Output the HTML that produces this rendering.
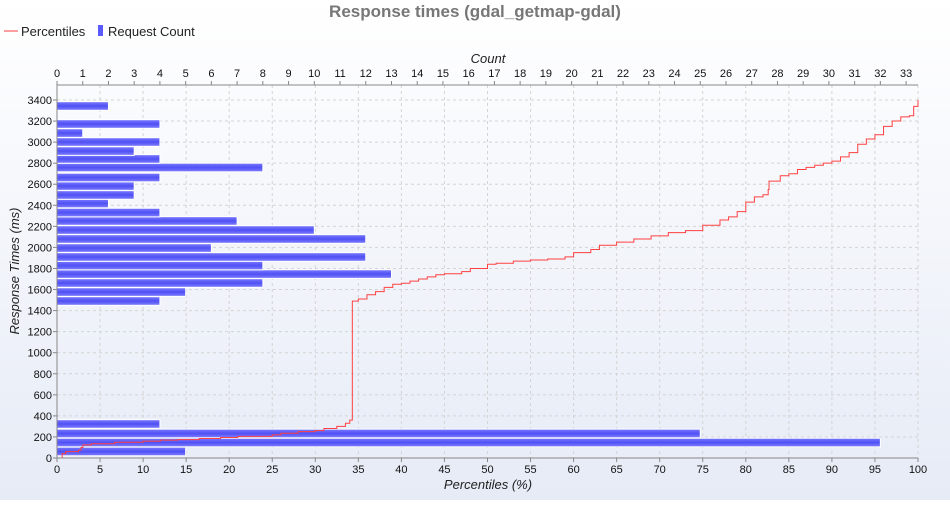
<!DOCTYPE html>
<html><head><meta charset="utf-8"><style>
html,body{margin:0;padding:0;}
body{width:950px;height:500px;overflow:hidden;background:linear-gradient(#ffffff,#e6ebf6);font-family:"Liberation Sans","DejaVu Sans",sans-serif;}
</style></head><body>
<svg id="chart" width="950" height="500" xmlns="http://www.w3.org/2000/svg" font-family="Liberation Sans, DejaVu Sans, sans-serif">
<defs>
<linearGradient id="bg" x1="0" y1="0" x2="0" y2="1"><stop offset="0" stop-color="#7b7bff"/><stop offset="0.5" stop-color="#5050f5"/><stop offset="1" stop-color="#8080ff"/></linearGradient>
</defs>
<text x="475" y="17" text-anchor="middle" font-size="17" font-weight="bold" fill="#777">Response times (gdal_getmap-gdal)</text>
<g>
<line x1="4" y1="31" x2="18" y2="31" stroke="#ff4040" stroke-width="1"/>
<text x="21" y="36" font-size="13" fill="#222">Percentiles</text>
<rect x="98" y="25" width="5" height="11" fill="#5a5aff"/>
<text x="108" y="36" font-size="13" fill="#222">Request Count</text>
</g>
<text x="488" y="63" text-anchor="middle" font-size="13" font-style="italic" fill="#222">Count</text>
<text x="488" y="489" text-anchor="middle" font-size="13" font-style="italic" fill="#222">Percentiles (%)</text>
<text transform="translate(19,271) rotate(-90)" text-anchor="middle" font-size="13" font-style="italic" fill="#222">Response Times (ms)</text>
<g id="grid"></g>
<g id="bars"></g>
<g id="line"></g>
<g id="axes"></g>
</svg>
<script>
const binMs = [62,147,233,323,1491,1576,1662,1747,1828,1909,1994,2080,2165,2251,2331,2417,2498,2583,2664,2759,2840,2915,3001,3086,3172,3343];
const binCounts = [5,32,25,4,4,5,8,13,8,12,6,12,10,7,4,2,3,3,4,8,4,3,4,1,4,2];
const pctX = [0.4,0.5,0.6,1,2.5,2.8,3,4,6.7,10,12,14,16.5,19,21,25,26,28,30,31,32.5,33.5,34,34.3,34.3,35,36,37,38,39,40,41,42,43,44,45,47,48,50,51,53,55,57,59,60,62,63,65,67,69,71,73,75,77,78,79,80,81,82,82.6,82.7,84,85,86,87,88,89,90,91,92,93,94,95,96,97,98,99,99.5,100];
const pctMs = [0,0,40,60,75,100,125,135,150,160,170,175,185,195,205,220,235,250,260,280,300,330,360,370,1490,1510,1550,1580,1620,1650,1660,1680,1700,1720,1740,1750,1770,1800,1840,1850,1870,1880,1890,1910,1950,1980,2020,2050,2080,2110,2140,2160,2210,2260,2290,2340,2430,2480,2500,2550,2630,2680,2700,2740,2760,2780,2800,2820,2860,2900,2980,3030,3070,3150,3200,3240,3250,3340,3400];
const yTicks = [0,200,400,600,800,1000,1200,1400,1600,1800,2000,2200,2400,2600,2800,3000,3200,3400];
const pTicks = [0,5,10,15,20,25,30,35,40,45,50,55,60,65,70,75,80,85,90,95,100];
const cTicks = [0,1,2,3,4,5,6,7,8,9,10,11,12,13,14,15,16,17,18,19,20,21,22,23,24,25,26,27,28,29,30,31,32,33];
const binWidthMs = 82;

const L=57,R=918,T=85,B=458;
const ns="http://www.w3.org/2000/svg";
const yS = v => B - v*(B-100)/3400;
const pS = v => L + v*(R-L)/100;
const cS = v => L + v*25.73;
function mk(tag, attrs, parent){const e=document.createElementNS(ns,tag);for(const k in attrs)e.setAttribute(k,attrs[k]);parent.appendChild(e);return e;}
const grid=document.getElementById('grid'), bars=document.getElementById('bars'), line=document.getElementById('line'), axes=document.getElementById('axes');
yTicks.forEach(v=>{
  const g=mk('line',{x1:L,x2:R,y1:yS(v),y2:yS(v),stroke:'#d4d4d4','stroke-dasharray':'3,3'},grid);
  
  
  const t=mk('line',{x1:L-4,x2:L,y1:yS(v),y2:yS(v),stroke:'#888'},axes);
  
  
  const tx=mk('text',{x:L-5,y:yS(v)+4,'text-anchor':'end','font-size':'11',fill:'#111'},axes);
  tx.textContent=v;
  
  
});
pTicks.forEach(v=>{
  const g=mk('line',{x1:pS(v),x2:pS(v),y1:T,y2:B,stroke:'#d4d4d4','stroke-dasharray':'3,3'},grid);
  
  
  const t=mk('line',{x1:pS(v),x2:pS(v),y1:B,y2:B+4,stroke:'#888'},axes);
  
  
  const tx=mk('text',{x:pS(v),y:B+15,'text-anchor':'middle','font-size':'11',fill:'#111'},axes);
  tx.textContent=v;
  
  
});
cTicks.forEach(v=>{
  const t=mk('line',{x1:cS(v),x2:cS(v),y1:T-4,y2:T,stroke:'#888'},axes);
  
  
  const tx=mk('text',{x:cS(v),y:T-8,'text-anchor':'middle','font-size':'11',fill:'#111'},axes);
  tx.textContent=v;
  
  
});
binMs.forEach((m,i)=>{
  const y0=yS(m+binWidthMs/2), y1=yS(m-binWidthMs/2);
  const r=mk('rect',{x:L,y:y0,width:cS(binCounts[i])-L,height:y1-y0,fill:'url(#bg)',stroke:'#ffffff','stroke-width':'1'},bars);
  
  
});
let d='';
pctX.forEach((p,i)=>{
  const x=pS(p), y=yS(pctMs[i]);
  if(i===0) d+='M'+x+','+y; else d+=' H'+x+' V'+y;
});
const pl=mk('path',{d:d,fill:'none',stroke:'#ff4040','stroke-width':'1'},line);


const a1=mk('line',{x1:L,x2:L,y1:T,y2:B,stroke:'#888'},axes);


const a2=mk('line',{x1:L,x2:R,y1:B,y2:B,stroke:'#888'},axes);


const a3=mk('line',{x1:L,x2:R,y1:T,y2:T,stroke:'#888'},axes);


</script>
</body></html>
